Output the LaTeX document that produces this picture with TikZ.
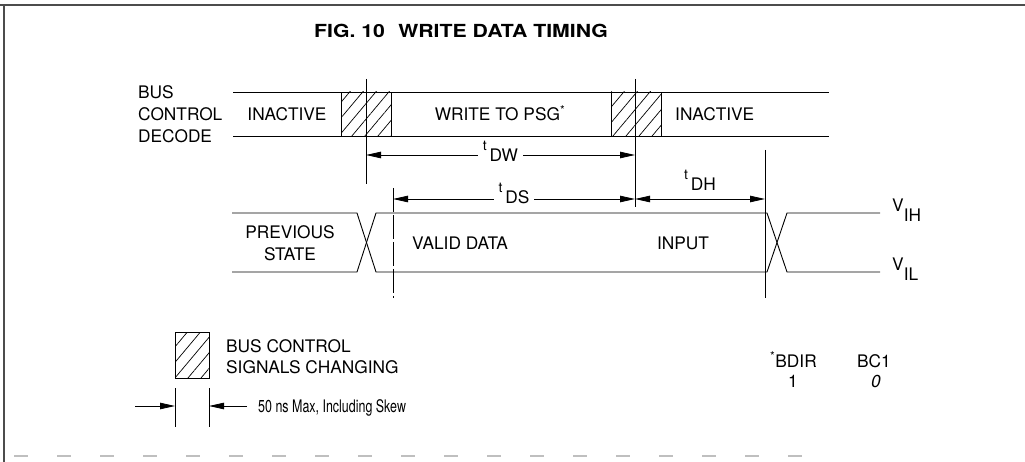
\documentclass[tikz,border=0pt]{standalone}
\usepackage{fontspec}
\setmainfont{TeX Gyre Heros}
\usetikzlibrary{arrows.meta,patterns.meta,positioning}

\newcommand{\tsym}[1]{\raisebox{11pt}{\fontsize{14}{14}\selectfont t}\,#1}
\newcommand{\vsym}[1]{V\raisebox{-10pt}{#1}}

\begin{document}
\begin{tikzpicture}[x=1pt, y=-1pt,
    wire/.style={line width=0.9pt},
    marker/.style={line width=0.8pt},
    hatchbox/.style={draw, line width=0.9pt,
        pattern={Lines[angle=50, distance=10pt, line width=0.7pt]}},
    dimline/.style={line width=0.8pt,
        {Triangle[length=15pt,width=6.5pt]}-{Triangle[length=15pt,width=6.5pt]}},
    oneway/.style={line width=0.8pt, -{Triangle[length=15pt,width=6.5pt]}},
    txt/.style={font=\fontsize{17.3}{22}\selectfont, inner sep=0pt, anchor=base},
    tlabel/.style={txt, fill=white, inner xsep=5pt, inner ysep=2pt},
    title/.style={font=\fontsize{18}{20}\selectfont\bfseries, inner sep=0pt},
]
    \useasboundingbox (0,0) rectangle (1025,462);

    % Frame of the page
    \draw[line width=1.6pt, black!70] (0,5) -- (1025,5);
    \draw[line width=1.6pt, black!70] (4,5) -- (4,462);
    \draw[line width=2pt, black!25, dash pattern=on 14pt off 29pt] (14,456) -- (830,456);

    % Title
    \node[title] (title) at (461,31) {\scalebox{1.18}[1]{FIG. 10\hspace{0.35em} WRITE DATA TIMING}};

    % Time marks
    \coordinate (dwL) at (366,155);
    \coordinate (dwR) at (635,155);
    \coordinate (dsL) at (393,199);
    \coordinate (dsR) at (635,199);
    \coordinate (dhR) at (765,199);

    % Bus control decode
    \node[txt, anchor=north west, align=left] (busname) at (138,85) {BUS\\CONTROL\\DECODE};
    \draw[wire] (233,92) -- (829,92) (233,136) -- (829,136);
    \draw[hatchbox] (341,92) rectangle (391,136);
    \draw[hatchbox] (611,92) rectangle (661,136);
    \node[txt] (inact1) at (287,121) {INACTIVE};
    \node[txt] (write) at (500,121) {WRITE TO PSG\textsuperscript{*}};
    \node[txt, anchor=base west] (inact2) at (675,121) {INACTIVE};

    % Data bus
    \draw[wire] (232,213) -- (357,213) -- (376,272) -- (767,272) -- (787,213) -- (880,213);
    \draw[wire] (232,272) -- (357,272) -- (376,213) -- (767,213) -- (787,272) -- (880,272);
    \node[txt, align=center, anchor=north] (prev) at (290,225) {PREVIOUS\\STATE};
    \node[txt, anchor=base west] (valid) at (412,250) {VALID DATA};
    \node[txt] (input) at (683,250) {INPUT};
    \node[txt, anchor=base west] (vih) at (892,212) {\vsym{IH}};
    \node[txt, anchor=base west] (vil) at (892,271) {\vsym{IL}};

    % Vertical reference lines
    \draw[marker] (366,79) -- (366,184);
    \draw[marker] (635,79) -- (635,207);
    \draw[marker, dash pattern=on 24pt off 3pt] (393,188) -- (393,298);
    \draw[marker] (765,150) -- (765,298);

    % Timing dimensions
    \draw[dimline] (dwL) -- (dwR) node[tlabel, midway, yshift=-7pt] (tdw) {\tsym{DW}};
    \draw[dimline] (dsL) -- (dsR) node[tlabel, midway, yshift=-5pt] (tds) {\tsym{DS}};
    \draw[dimline] (dsR) -- (dhR) node[txt, midway, yshift=8pt] (tdh) {\tsym{DH}};

    % Legend
    \draw[hatchbox] (175,332) rectangle (209,378);
    \node[txt, anchor=base west, align=left] (legend) at (226,352) {BUS CONTROL};
    \node[txt, anchor=base west] (legend2) at (226,373) {SIGNALS CHANGING};
    \coordinate (skL) at (175,406);
    \coordinate (skR) at (209,406);
    \draw[marker] (175,388) -- (175,427) (209,388) -- (209,427);
    \draw[oneway] (135,406) -- (skL);
    \draw[oneway] (247,406) -- (skR);
    \node[txt, anchor=base west] (skew) at (258,412) {\scalebox{0.72}[1]{50 ns Max, Including Skew}};

    % Bus state table
    \node[txt, anchor=base west] (bdir) at (770,367) {\textsuperscript{*}BDIR};
    \node[txt] (bc1) at (874,367) {BC1};
    \node[txt] (bdirv) at (793,387) {1};
    \node[txt] (bc1v) at (876,387) {\itshape 0};
\end{tikzpicture}
\end{document}
